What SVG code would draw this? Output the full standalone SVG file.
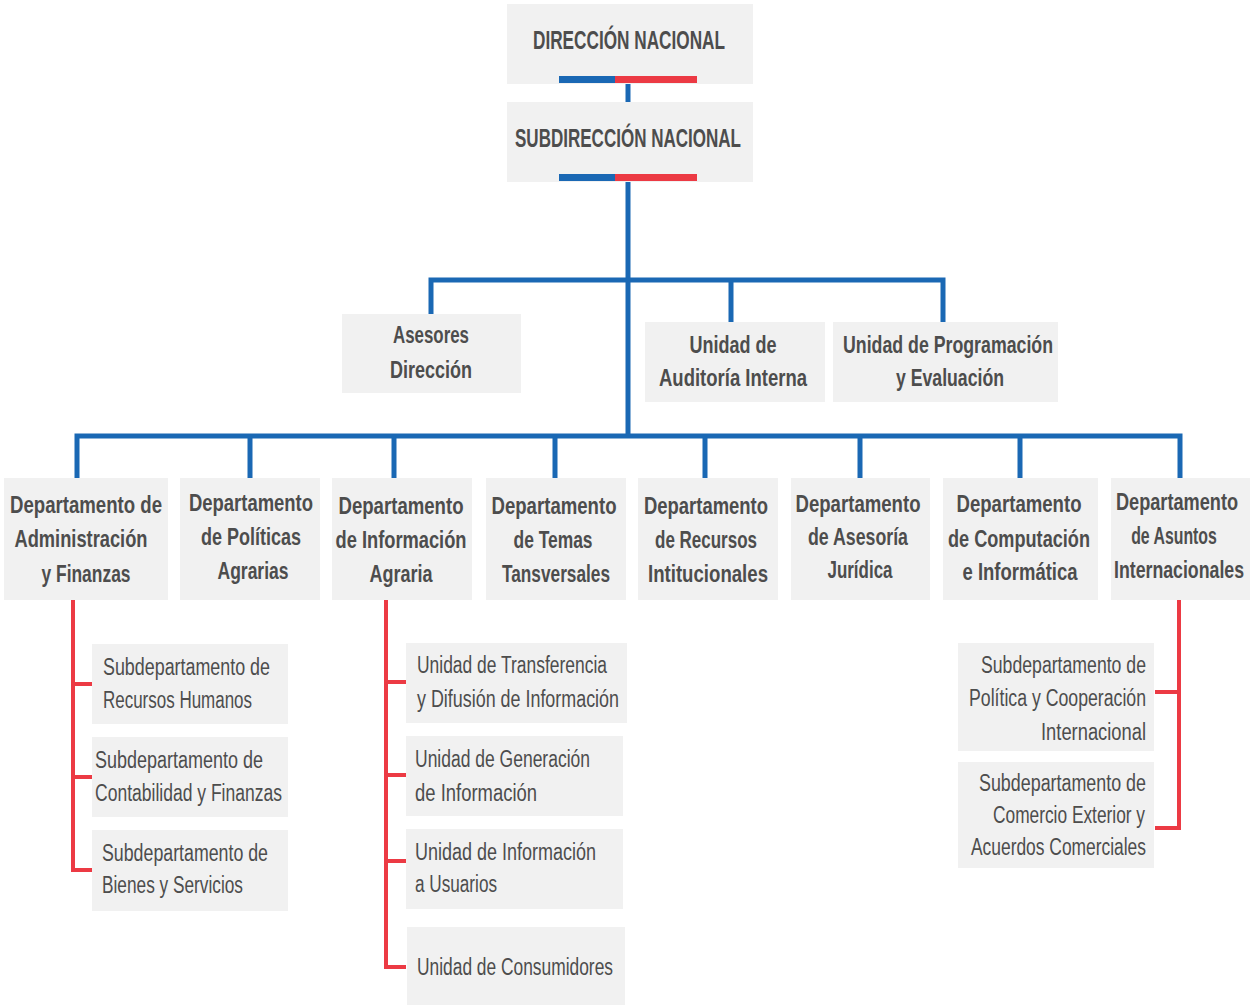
<svg xmlns="http://www.w3.org/2000/svg" width="1251" height="1005" viewBox="0 0 1251 1005">
<style>
.box{fill:#f1f1f1}
text{font-family:"Liberation Sans",Arial,sans-serif;fill:#4d4d4d}
.t{font-weight:bold;font-size:26px;text-anchor:middle}
.d{font-weight:bold;font-size:24px;text-anchor:middle}
.s{font-size:23px}
.e{font-size:23px;text-anchor:end}
.blue{fill:none;stroke:#1a68b4;stroke-width:5;stroke-linejoin:miter;stroke-linecap:butt}
.red{fill:none;stroke:#ec3a44;stroke-width:4;stroke-linejoin:miter;stroke-linecap:butt}
.bb{fill:#1a68b4}
.rb{fill:#ec3a44}
</style>
<rect width="1251" height="1005" fill="#ffffff"/>
<g id="connectors">
<path class="blue" d="M628 84V102"/>
<path class="blue" d="M628 182V438"/>
<path class="blue" d="M431 314V280H943V322M731 280V322"/>
<path class="blue" d="M77 478V436H1180V478M250 436V478M394 436V478M555 436V478M705 436V478M860 436V478M1020 436V478"/>
<path class="red" d="M73 600V870H92M73 684H92M73 777H92"/>
<path class="red" d="M386 600V967H406M386 682H406M386 775H406M386 861H406"/>
<path class="red" d="M1179 600V828H1155M1179 692H1155"/>
</g>
<g id="direccion-nacional">
<rect class="box" x="507" y="4" width="246" height="80"/>
<text class="t" x="629" y="49" textLength="192" lengthAdjust="spacingAndGlyphs">DIRECCIÓN NACIONAL</text>
<rect class="bb" x="559" y="76" width="56" height="7"/>
<rect class="rb" x="615" y="76" width="82" height="7"/>
</g>
<g id="subdireccion-nacional">
<rect class="box" x="507" y="102" width="246" height="80"/>
<text class="t" x="628" y="147" textLength="226" lengthAdjust="spacingAndGlyphs" style="font-size:25px">SUBDIRECCIÓN NACIONAL</text>
<rect class="bb" x="559" y="174" width="56" height="7"/>
<rect class="rb" x="615" y="174" width="82" height="7"/>
</g>
<g id="asesores">
<rect class="box" x="342" y="314" width="179" height="79"/>
<text class="d" x="431" y="343" textLength="76" lengthAdjust="spacingAndGlyphs">Asesores</text>
<text class="d" x="431" y="378" textLength="82" lengthAdjust="spacingAndGlyphs">Dirección</text>
</g>
<g id="auditoria">
<rect class="box" x="645" y="322" width="180" height="80"/>
<text class="d" x="733" y="353" textLength="87" lengthAdjust="spacingAndGlyphs">Unidad de</text>
<text class="d" x="733" y="386" textLength="148" lengthAdjust="spacingAndGlyphs">Auditoría Interna</text>
</g>
<g id="programacion">
<rect class="box" x="833" y="322" width="225" height="80"/>
<text class="d" x="948" y="353" textLength="210" lengthAdjust="spacingAndGlyphs">Unidad de Programación</text>
<text class="d" x="950" y="386" textLength="108" lengthAdjust="spacingAndGlyphs">y Evaluación</text>
</g>
<g id="dep-administracion">
<rect class="box" x="4" y="478" width="164" height="122"/>
<text class="d" x="86" y="513" textLength="152" lengthAdjust="spacingAndGlyphs">Departamento de</text>
<text class="d" x="81" y="547" textLength="133" lengthAdjust="spacingAndGlyphs">Administración</text>
<text class="d" x="86" y="582" textLength="89" lengthAdjust="spacingAndGlyphs">y Finanzas</text>
</g>
<g id="dep-politicas">
<rect class="box" x="180" y="478" width="140" height="122"/>
<text class="d" x="251" y="511" textLength="124" lengthAdjust="spacingAndGlyphs">Departamento</text>
<text class="d" x="251" y="545" textLength="100" lengthAdjust="spacingAndGlyphs">de Políticas</text>
<text class="d" x="253" y="579" textLength="71" lengthAdjust="spacingAndGlyphs">Agrarias</text>
</g>
<g id="dep-informacion">
<rect class="box" x="332" y="478" width="140" height="122"/>
<text class="d" x="401" y="514" textLength="125" lengthAdjust="spacingAndGlyphs">Departamento</text>
<text class="d" x="401" y="548" textLength="131" lengthAdjust="spacingAndGlyphs">de Información</text>
<text class="d" x="401" y="582" textLength="63" lengthAdjust="spacingAndGlyphs">Agraria</text>
</g>
<g id="dep-temas">
<rect class="box" x="486" y="478" width="140" height="122"/>
<text class="d" x="554" y="514" textLength="125" lengthAdjust="spacingAndGlyphs">Departamento</text>
<text class="d" x="553" y="548" textLength="79" lengthAdjust="spacingAndGlyphs">de Temas</text>
<text class="d" x="556" y="582" textLength="108" lengthAdjust="spacingAndGlyphs">Tansversales</text>
</g>
<g id="dep-recursos">
<rect class="box" x="638" y="478" width="140" height="122"/>
<text class="d" x="706" y="514" textLength="124" lengthAdjust="spacingAndGlyphs">Departamento</text>
<text class="d" x="706" y="548" textLength="102" lengthAdjust="spacingAndGlyphs">de Recursos</text>
<text class="d" x="708" y="582" textLength="120" lengthAdjust="spacingAndGlyphs">Intitucionales</text>
</g>
<g id="dep-asesoria">
<rect class="box" x="791" y="478" width="139" height="122"/>
<text class="d" x="858" y="512" textLength="125" lengthAdjust="spacingAndGlyphs">Departamento</text>
<text class="d" x="858" y="545" textLength="100" lengthAdjust="spacingAndGlyphs">de Asesoría</text>
<text class="d" x="860" y="578" textLength="65" lengthAdjust="spacingAndGlyphs">Jurídica</text>
</g>
<g id="dep-computacion">
<rect class="box" x="943" y="478" width="155" height="122"/>
<text class="d" x="1019" y="512" textLength="125" lengthAdjust="spacingAndGlyphs">Departamento</text>
<text class="d" x="1019" y="547" textLength="142" lengthAdjust="spacingAndGlyphs">de Computación</text>
<text class="d" x="1020" y="580" textLength="115" lengthAdjust="spacingAndGlyphs">e Informática</text>
</g>
<g id="dep-asuntos">
<rect class="box" x="1111" y="478" width="139" height="122"/>
<text class="d" transform="translate(1177 510) scale(0.757 1)">Departamento</text>
<text class="d" transform="translate(1174 544) scale(0.66 1)">de Asuntos</text>
<text class="d" transform="translate(1179 578) scale(0.739 1)">Internacionales</text>
</g>
<g id="sub-rrhh">
<rect class="box" x="92" y="644" width="196" height="80"/>
<text class="s" x="103" y="675" textLength="167" lengthAdjust="spacingAndGlyphs">Subdepartamento de</text>
<text class="s" x="103" y="708" textLength="149" lengthAdjust="spacingAndGlyphs">Recursos Humanos</text>
</g>
<g id="sub-contabilidad">
<rect class="box" x="92" y="737" width="196" height="80"/>
<text class="s" x="95" y="768" textLength="168" lengthAdjust="spacingAndGlyphs">Subdepartamento de</text>
<text class="s" x="95" y="801" textLength="187" lengthAdjust="spacingAndGlyphs">Contabilidad y Finanzas</text>
</g>
<g id="sub-bienes">
<rect class="box" x="92" y="830" width="196" height="81"/>
<text class="s" x="102" y="861" textLength="166" lengthAdjust="spacingAndGlyphs">Subdepartamento de</text>
<text class="s" x="102" y="893" textLength="141" lengthAdjust="spacingAndGlyphs">Bienes y Servicios</text>
</g>
<g id="u-transferencia">
<rect class="box" x="406" y="643" width="221" height="80"/>
<text class="s" x="417" y="673" textLength="190" lengthAdjust="spacingAndGlyphs">Unidad de Transferencia</text>
<text class="s" x="417" y="707" textLength="202" lengthAdjust="spacingAndGlyphs">y Difusión de Información</text>
</g>
<g id="u-generacion">
<rect class="box" x="406" y="736" width="217" height="80"/>
<text class="s" x="415" y="767" textLength="175" lengthAdjust="spacingAndGlyphs">Unidad de Generación</text>
<text class="s" x="415" y="801" textLength="122" lengthAdjust="spacingAndGlyphs">de Información</text>
</g>
<g id="u-usuarios">
<rect class="box" x="406" y="829" width="217" height="80"/>
<text class="s" x="415" y="860" textLength="181" lengthAdjust="spacingAndGlyphs">Unidad de Información</text>
<text class="s" x="415" y="892" textLength="82" lengthAdjust="spacingAndGlyphs">a Usuarios</text>
</g>
<g id="u-consumidores">
<rect class="box" x="407" y="927" width="218" height="78"/>
<text class="s" x="417" y="975" textLength="196" lengthAdjust="spacingAndGlyphs">Unidad de Consumidores</text>
</g>
<g id="sub-cooperacion">
<rect class="box" x="958" y="643" width="196" height="108"/>
<text class="e" x="1146" y="673" textLength="165" lengthAdjust="spacingAndGlyphs">Subdepartamento de</text>
<text class="e" x="1146" y="706" textLength="177" lengthAdjust="spacingAndGlyphs">Política y Cooperación</text>
<text class="e" x="1146" y="740" textLength="105" lengthAdjust="spacingAndGlyphs">Internacional</text>
</g>
<g id="sub-comercio">
<rect class="box" x="958" y="762" width="196" height="106"/>
<text class="e" x="1146" y="791" textLength="167" lengthAdjust="spacingAndGlyphs">Subdepartamento de</text>
<text class="e" x="1145" y="823" textLength="152" lengthAdjust="spacingAndGlyphs">Comercio Exterior y</text>
<text class="e" x="1146" y="855" textLength="175" lengthAdjust="spacingAndGlyphs">Acuerdos Comerciales</text>
</g>
</svg>
